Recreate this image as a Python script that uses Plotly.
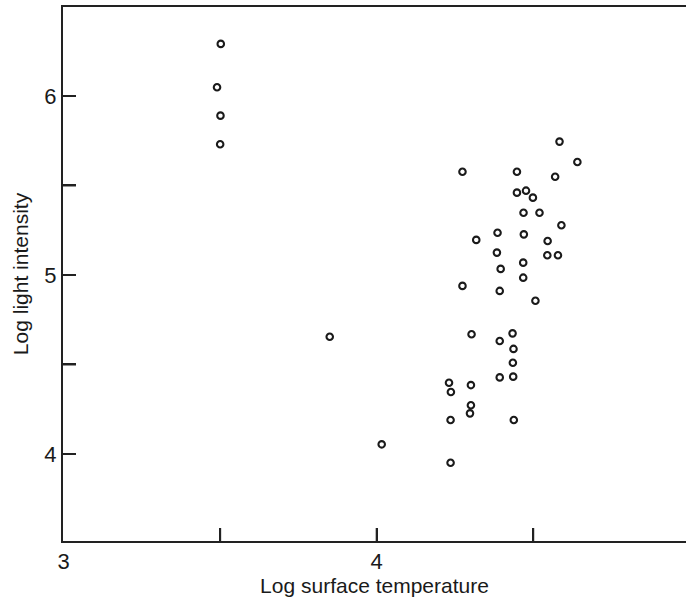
import plotly.graph_objects as go

# Log surface temperature (x) and log light intensity (y)
log_temp = [3.502, 3.490, 3.501, 3.500, 3.850, 4.016, 4.274, 4.448, 4.641, 4.584,
            4.570, 4.448, 4.477, 4.499, 4.469, 4.520, 4.590, 4.386, 4.318, 4.470,
            4.546, 4.384, 4.545, 4.579, 4.396, 4.468, 4.468, 4.274, 4.393, 4.507,
            4.303, 4.434, 4.393, 4.437, 4.435, 4.393, 4.436, 4.231, 4.237, 4.301,
            4.301, 4.298, 4.236, 4.438, 4.236]
log_light = [6.291, 6.049, 5.890, 5.730, 4.655, 4.054, 5.577, 5.577, 5.631, 5.745,
             5.549, 5.460, 5.471, 5.432, 5.348, 5.348, 5.278, 5.236, 5.196, 5.227,
             5.190, 5.125, 5.110, 5.110, 5.034, 5.069, 4.985, 4.939, 4.911, 4.856,
             4.669, 4.674, 4.631, 4.587, 4.510, 4.428, 4.432, 4.398, 4.346, 4.385,
             4.272, 4.227, 4.190, 4.190, 3.951]

x_tickvals = [3.0, 3.5, 4.0, 4.5, 5.0]
x_ticktext = ["3", "", "4", "", "5"]
y_tickvals = [4.0, 4.5, 5.0, 5.5, 6.0]
y_ticktext = ["4", "", "5", "", "6"]

X_RANGE = [2.998, 4.988]
Y_RANGE = [3.514, 6.497]
TICK_LEN = 13
AX_COLOR = "#222222"
FONT = "Liberation Sans, Arial, Helvetica, sans-serif"

fig = go.Figure(go.Scatter(
    x=log_temp, y=log_light, mode="markers",
    marker=dict(symbol="circle-open", size=6.5, color="#1a1a1a",
                line=dict(width=2.1, color="#1a1a1a")),
    hoverinfo="skip"))

# inward tick marks, anchored on the axis lines (pixel length), at the axis tick values
tick_shapes = []
for v in x_tickvals:
    if X_RANGE[0] + 0.01 < v < X_RANGE[1]:
        tick_shapes.append(dict(
            type="line", xref="x", yref="paper", ysizemode="pixel", yanchor=0,
            x0=v, x1=v, y0=0, y1=TICK_LEN, line=dict(color=AX_COLOR, width=2)))
for v in y_tickvals:
    if Y_RANGE[0] + 0.01 < v < Y_RANGE[1]:
        tick_shapes.append(dict(
            type="line", xref="paper", yref="y", xsizemode="pixel", xanchor=0,
            x0=0, x1=TICK_LEN, y0=v, y1=v, line=dict(color=AX_COLOR, width=2)))

fig.update_layout(
    template="none",
    width=686, height=601,
    margin=dict(l=63, r=0, t=7, b=60),
    paper_bgcolor="white", plot_bgcolor="white",
    showlegend=False,
    font=dict(family=FONT, color="#1a1a1a", size=21),
    shapes=tick_shapes,
    xaxis=dict(
        range=X_RANGE, showgrid=False, zeroline=False,
        showline=True, linecolor=AX_COLOR, linewidth=2, mirror=True,
        tickmode="array", tickvals=x_tickvals, ticktext=x_ticktext,
        ticks="inside", ticklen=TICK_LEN, tickwidth=2, tickcolor=AX_COLOR,
        layer="above traces",
        tickfont=dict(size=22, family=FONT),
        title=dict(text="Log surface temperature", font=dict(size=21, family=FONT), standoff=4),
        automargin=False,
    ),
    yaxis=dict(
        range=Y_RANGE, showgrid=False, zeroline=False,
        showline=True, linecolor=AX_COLOR, linewidth=2, mirror=False,
        tickmode="array", tickvals=y_tickvals, ticktext=y_ticktext,
        ticks="inside", ticklen=TICK_LEN, tickwidth=2, tickcolor=AX_COLOR,
        layer="above traces",
        tickfont=dict(size=22, family=FONT),
        title=dict(text="Log light intensity", font=dict(size=21, family=FONT), standoff=10),
        automargin=False,
    ),
)

fig.write_html(
    "out.html",
    config={"displayModeBar": False},
    post_script="document.body.style.margin='0';document.body.style.overflow='hidden';",
)
